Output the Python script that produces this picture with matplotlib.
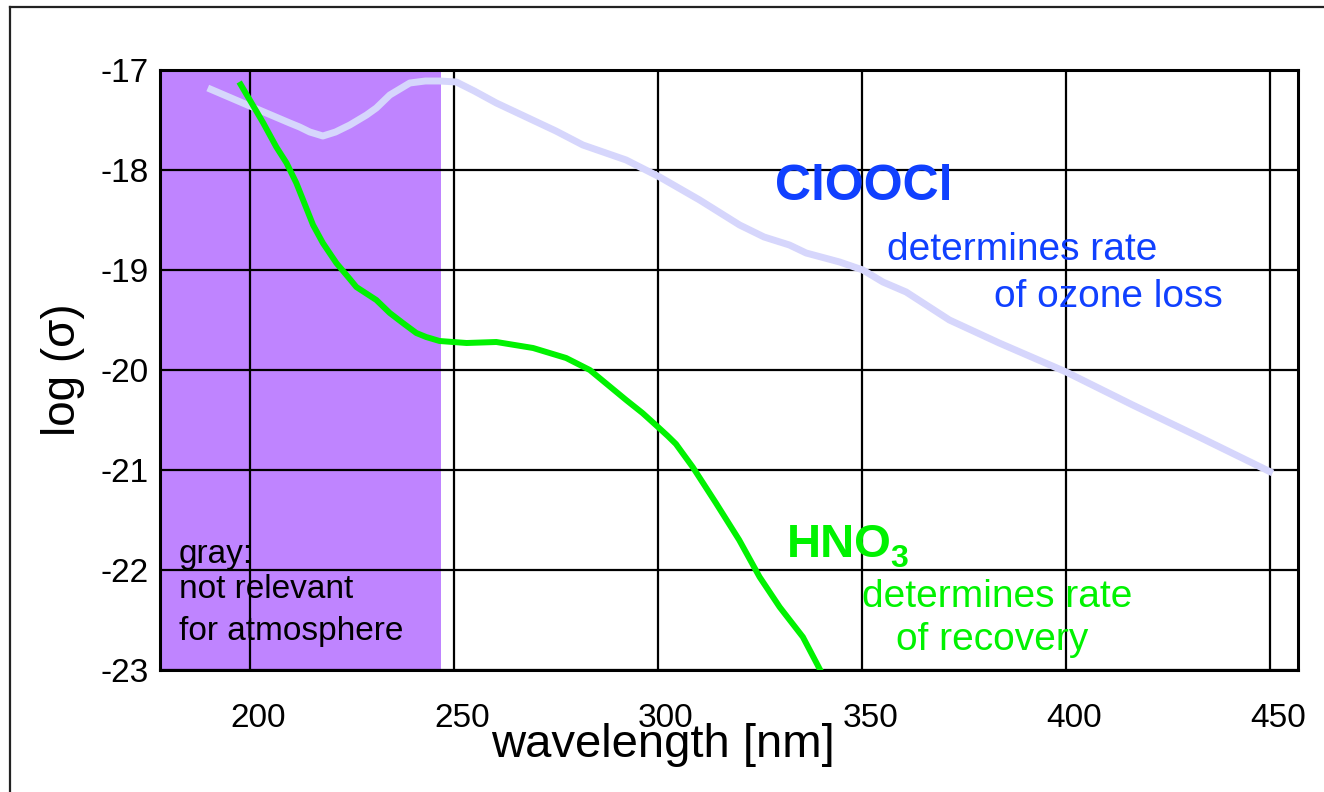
import numpy as np
import matplotlib
matplotlib.use("Agg")
import matplotlib.pyplot as plt
from matplotlib.lines import Line2D
from matplotlib.transforms import ScaledTranslation

plt.rcParams['font.family'] = ['Liberation Sans', 'DejaVu Sans']
plt.rcParams['axes.unicode_minus'] = False

# absorption cross sections, log10(sigma) vs wavelength in nm
cloocl_wl = [189.7, 200.0, 209.8, 212.2, 214.7, 217.9, 221.0, 224.5, 228.6, 231.0,
             234.3, 239.2, 243.0, 246.5, 250.6, 255.0, 260.4, 267.7, 275.0, 281.6,
             292.2, 300.4, 310.2, 320.0, 326.0, 332.2, 336.3, 344.5, 350.2, 355.1,
             360.8, 371.4, 383.6, 400.0, 416.3, 432.6, 450.6]
cloocl_logs = [-17.18, -17.36, -17.53, -17.57, -17.62, -17.66, -17.62, -17.55, -17.45, -17.38,
               -17.25, -17.13, -17.11, -17.11, -17.12, -17.21, -17.33, -17.47, -17.61, -17.75,
               -17.90, -18.07, -18.30, -18.55, -18.67, -18.75, -18.83, -18.92, -19.00, -19.12,
               -19.22, -19.50, -19.73, -20.02, -20.35, -20.67, -21.03]

hno3_wl = [197.4, 200.0, 203.3, 206.5, 209.0, 211.4, 215.5, 217.9, 221.2, 224.5,
           226.1, 231.0, 234.3, 237.5, 240.8, 243.2, 246.5, 249.8, 253.1, 260.4,
           269.4, 277.5, 283.3, 292.2, 296.2, 300.0, 302.4, 304.4, 306.0, 308.5,
           314.2, 319.9, 324.9, 329.8, 335.5, 340.0]
hno3_logs = [-17.12, -17.30, -17.53, -17.77, -17.93, -18.13, -18.55, -18.73, -18.93, -19.09,
             -19.17, -19.30, -19.43, -19.53, -19.63, -19.67, -19.71, -19.72, -19.73, -19.72,
             -19.78, -19.88, -20.00, -20.30, -20.43, -20.57, -20.66, -20.74, -20.83, -20.97,
             -21.33, -21.70, -22.07, -22.37, -22.67, -23.02]

x_ticks = [200, 250, 300, 350, 400, 450]
y_ticks = [-23, -22, -21, -20, -19, -18, -17]
cutoff_wl = 246.8   # below this the light does not reach the atmosphere

fig = plt.figure(figsize=(13.24, 7.92), dpi=100)
ax = fig.add_axes([160 / 1324, 1 - 670 / 792, 1138 / 1324, 600 / 792])

ax.set_xlim(178, 456.8)
ax.set_ylim(-23, -17)

ax.axvspan(178, cutoff_wl, color='#bf84ff', lw=0, zorder=0.2)

ax.plot(cloocl_wl, cloocl_logs, color='#d6d6fc', lw=5.0, solid_capstyle='butt',
        solid_joinstyle='round', zorder=2)
ax.plot(hno3_wl, hno3_logs, color='#00f200', lw=4.3, solid_capstyle='butt',
        solid_joinstyle='round', zorder=3)

ax.set_xticks(x_ticks)
ax.set_yticks(y_ticks)
ax.grid(True, color='black', lw=1.6)
ax.tick_params(length=0, labelsize=24)
ax.tick_params(axis='x', pad=24)
ax.tick_params(axis='y', pad=8)
for lbl in ax.get_xticklabels():
    lbl.set_transform(lbl.get_transform() + ScaledTranslation(0.08, 0, fig.dpi_scale_trans))
for sp in ax.spines.values():
    sp.set_linewidth(2.2)

ax.set_xlabel('wavelength [nm]', fontsize=34)
ax.xaxis.set_label_coords(0.442, -0.088)
ax.set_ylabel('log (σ)', fontsize=33, labelpad=11)

blue = '#1040ff'
green = '#00f200'
ax.text(328.6, -18.30, 'ClOOCl', color=blue, fontsize=36, fontweight='bold', va='baseline')
ax.text(356.2, -18.90, 'determines rate', color=blue, fontsize=28, va='baseline')
ax.text(382.4, -19.37, 'of ozone loss', color=blue, fontsize=28, va='baseline')

ax.text(331.5, -21.87, 'HNO', color=green, fontsize=34, fontweight='bold', va='baseline')
ax.text(357.0, -21.97, '3', color=green, fontsize=23, fontweight='bold', va='baseline')
ax.text(349.9, -22.37, 'determines rate', color=green, fontsize=28, va='baseline')
ax.text(358.4, -22.80, 'of recovery', color=green, fontsize=28, va='baseline')

ax.text(182.6, -21.93, 'gray:', color='black', fontsize=24, va='baseline')
ax.text(182.6, -22.28, 'not relevant', color='black', fontsize=24, va='baseline')
ax.text(182.6, -22.70, 'for atmosphere', color='black', fontsize=24, va='baseline')

# frame around the slide
fx, fy = 10 / 1324, 1 - 7 / 792
fig.add_artist(Line2D([fx, fx], [0, fy], color='#222222', lw=1.6))
fig.add_artist(Line2D([fx, 1], [fy, fy], color='#222222', lw=1.6))

fig.savefig('out.png', dpi=100)
